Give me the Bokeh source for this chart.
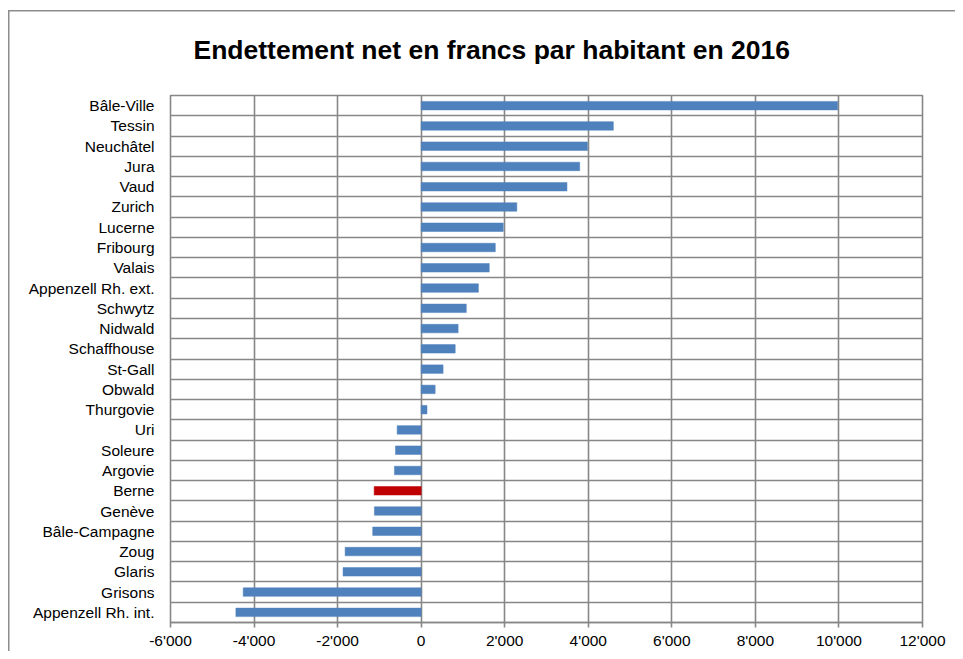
from bokeh.plotting import figure
from bokeh.models import Range1d, FixedTicker, ColumnDataSource
from bokeh.embed import file_html
from bokeh.resources import INLINE

# ---- data -------------------------------------------------------------
cantons = ["Bâle-Ville", "Tessin", "Neuchâtel", "Jura", "Vaud", "Zurich",
           "Lucerne", "Fribourg", "Valais", "Appenzell Rh. ext.", "Schwytz",
           "Nidwald", "Schaffhouse", "St-Gall", "Obwald", "Thurgovie", "Uri",
           "Soleure", "Argovie", "Berne", "Genève", "Bâle-Campagne", "Zoug",
           "Glaris", "Grisons", "Appenzell Rh. int."]
dette = [9970, 4600, 3980, 3795, 3490, 2290, 1965, 1775, 1630, 1370, 1080,
         885, 815, 525, 335, 140, -575, -615, -640, -1125, -1120, -1160,
         -1820, -1870, -4260, -4435]
highlight = "Berne"
x_ticks = [-6000, -4000, -2000, 0, 2000, 4000, 6000, 8000, 10000, 12000]
title = "Endettement net en francs par habitant en 2016"

BLUE = "#4F81BD"
RED = "#C00000"
GRID = "#878787"
FONT = "Liberation Sans"

W, H = 955, 651
BL, BT, FW, FH = 170, 95, 752, 527
n = len(cantons)
pos = [n - i - 0.5 for i in range(n)]
colors = [RED if c == highlight else BLUE for c in cantons]
src = ColumnDataSource(dict(y=pos, v=dette, c=colors, name=cantons))

p = figure(width=W, height=H, output_backend="svg", toolbar_location=None,
           x_range=Range1d(x_ticks[0], x_ticks[-1]), y_range=Range1d(0, n),
           frame_width=FW, frame_height=FH,
           min_border_left=BL, min_border_top=BT, min_border_right=W - BL - FW,
           min_border_bottom=H - BT - FH)
p.border_fill_color = None
p.background_fill_color = "white"

p.hbar(y="y", right="v", left=0, height=0.42, fill_color="c",
       line_color="c", line_width=0.5, source=src)

# title
p.title.text = title
p.title.text_font = FONT
p.title.text_font_size = "26.5px"
p.title.text_font_style = "bold"
p.title.text_color = "black"
p.title.align = "left"
p.title.offset = 23
p.title.standoff = 62

# grids
p.xgrid.ticker = FixedTicker(ticks=x_ticks)
p.ygrid.ticker = FixedTicker(ticks=list(range(n + 1)))
for g in (p.xgrid, p.ygrid):
    g.grid_line_color = GRID
    g.grid_line_width = 1.6

p.outline_line_color = GRID
p.outline_line_width = 1.6

# x axis
xa = p.xaxis[0]
xa.ticker = FixedTicker(ticks=x_ticks)
xa.major_label_overrides = {t: f"{t:,}".replace(",", "'") for t in x_ticks}
xa.axis_line_color = GRID
xa.axis_line_width = 1.6
xa.major_tick_line_color = GRID
xa.major_tick_line_width = 1.6
xa.major_tick_out = 5
xa.major_tick_in = 0
xa.minor_tick_line_color = None
xa.major_label_standoff = 4
xa.major_label_text_font = FONT
xa.major_label_text_font_size = "15.5px"
xa.major_label_text_color = "black"

# y axis (category names)
ya = p.yaxis[0]
ya.ticker = FixedTicker(ticks=pos)
ya.major_label_overrides = {y: c for y, c in zip(pos, cantons)}
ya.axis_line_color = None
ya.major_tick_line_color = None
ya.minor_tick_line_color = None
ya.major_tick_out = 0
ya.major_tick_in = 0
ya.major_label_standoff = 16
ya.major_label_text_font = FONT
ya.major_label_text_font_size = "15.5px"
ya.major_label_text_color = "black"

# outer chart-area border (left and top edges), drawn behind the transparent canvas
p.styles = {
    "background": ("linear-gradient(#8c8c8c, #8c8c8c) 8px 10px / 1.5px 100% no-repeat, "
                   "linear-gradient(#8c8c8c, #8c8c8c) 8px 10px / 100% 1.5px no-repeat, "
                   "white"),
}

open("out.html", "w").write(file_html(p, INLINE))
